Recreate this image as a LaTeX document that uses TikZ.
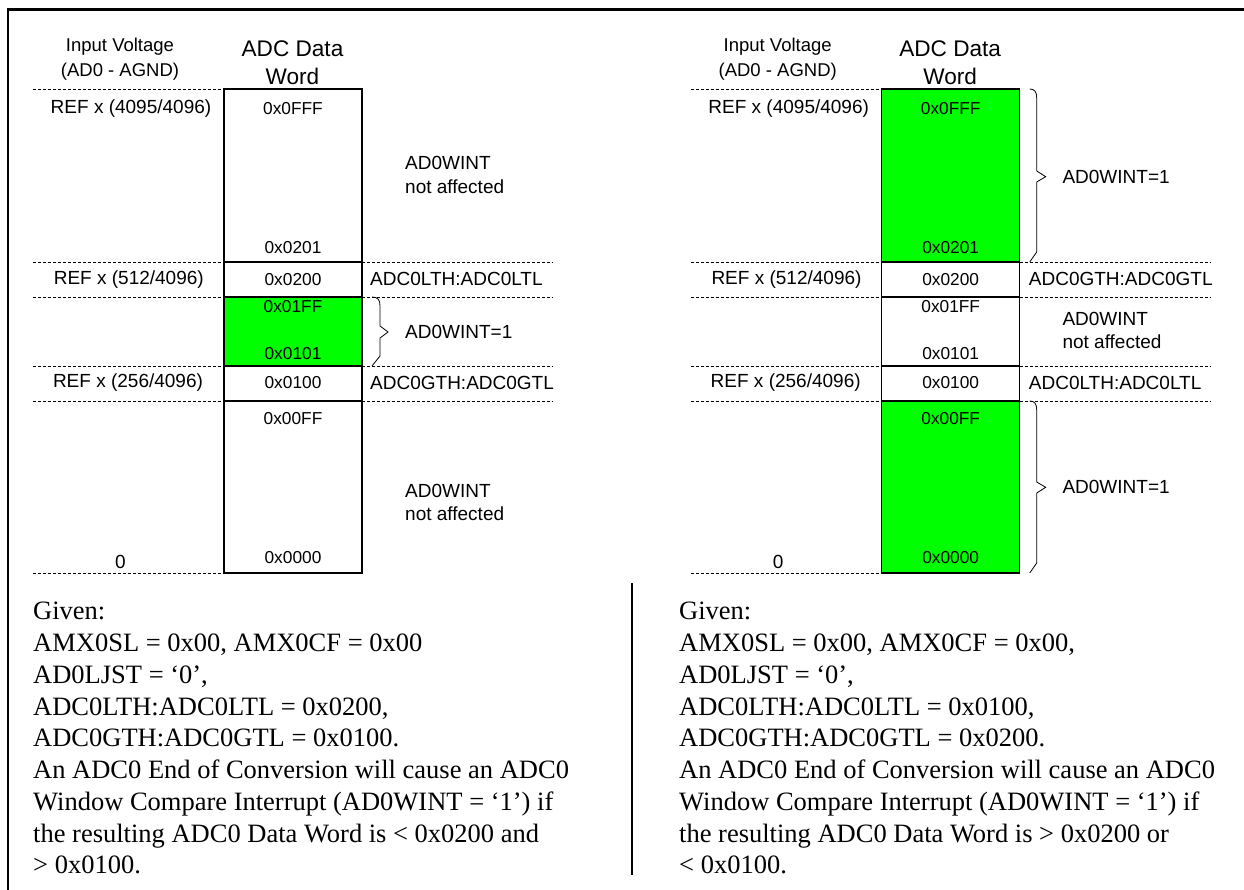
\documentclass[tikz,border=0pt]{standalone}
\usepackage{fontspec}
\setmainfont{Liberation Serif}
\setsansfont{Liberation Sans}
\begin{document}
\begin{tikzpicture}[x=1pt,y=-1pt,
    lbl/.style={font=\sffamily\fontsize{19}{23.3}\selectfont,inner sep=0pt},
    hexlbl/.style={font=\sffamily\fontsize{17.3}{20}\selectfont,inner sep=0pt},
    hdr/.style={font=\sffamily\fontsize{18.5}{25}\selectfont,align=center,inner sep=0pt},
    wordhdr/.style={font=\sffamily\fontsize{22.6}{28}\selectfont,align=center,inner sep=0pt},
    note/.style={lbl,anchor=west,align=left},
    level/.style={dash pattern=on 3pt off 2pt,line width=0.8pt},
    sep/.style={line width=1.5pt},
    given/.style={font=\fontsize{26.5}{31.75}\selectfont,align=left,anchor=north west,inner sep=0pt}]
    \useasboundingbox (0,0) rectangle (1244,890);
    % frame and divider
    \draw[line width=2.5pt] (8,890) -- (8,9.5) -- (1244,9.5);
    \draw[line width=2.7pt] (632,583) -- (632,875);

    % left case: window inside the limits
    \begin{scope}
        \fill[green] (224,297) rectangle (362,366);
        \draw[line width=1.1pt] (224,89) rectangle (362,573);
        \foreach \y in {262,297,366,401} \draw[sep] (224,\y) -- (362,\y);
        \foreach \y in {89,262,297,366,401,573} \draw[level] (33,\y) -- (224,\y);
        \foreach \y in {262,297,366,401} \draw[level] (362,\y) -- (553,\y);
        \draw[line width=0.8pt] (372,297) .. controls (378,297) and (380,300) .. (380,306)
            -- (380,326) -- (388,332) -- (380,338) -- (380,356) -- (372,366);
        \node[hdr] (Lvin) at (120,59) {Input Voltage\\(AD0 - AGND)};
        \node[wordhdr] (Lword) at (292.5,63) {ADC Data\\Word};
        \node[lbl] (Lref4095) at (131,108.3) {REF x (4095/4096)};
        \node[lbl] (Lref512) at (128.8,279.3) {REF x (512/4096)};
        \node[lbl] (Lref256) at (128,382.7) {REF x (256/4096)};
        \node[lbl] (Lzero) at (120.5,561.7) {0};
        \node[hexlbl] (Lfff) at (293,108.3) {0x0FFF};
        \node[hexlbl] (L201) at (293,247.3) {0x0201};
        \node[hexlbl] (L200) at (293,279.3) {0x0200};
        \node[hexlbl] (L1ff) at (293,306.7) {0x01FF};
        \node[hexlbl] (L101) at (293,353.3) {0x0101};
        \node[hexlbl] (L100) at (293,382.7) {0x0100};
        \node[hexlbl] (L0ff) at (293,418.3) {0x00FF};
        \node[hexlbl] (L000) at (293,557.3) {0x0000};
        \node[lbl,anchor=west] (Llth) at (370,279.3) {ADC0LTH:ADC0LTL};
        \node[lbl,anchor=west] (Lgth) at (370,382.7) {ADC0GTH:ADC0GTL};
        \node[note] (Lhigh) at (405,175) {AD0WINT\\not affected};
        \node[note] (Lwin) at (405,331.7) {AD0WINT=1};
        \node[note] (Llow) at (405,502.7) {AD0WINT\\not affected};
        \node[given] (Lgiven) at (33,602) {Given:\\
            AMX0SL = 0x00, AMX0CF = 0x00\\
            AD0LJST = ‘0’,\\
            ADC0LTH:ADC0LTL = 0x0200,\\
            ADC0GTH:ADC0GTL = 0x0100.\\
            An ADC0 End of Conversion will cause an ADC0\\
            Window Compare Interrupt (AD0WINT = ‘1’) if\\
            the resulting ADC0 Data Word is < 0x0200 and\\
            > 0x0100.};
    \end{scope}

    % right case: window outside the limits
    \begin{scope}[xshift=657.7pt]
        \fill[green] (224,89) rectangle (362,262);
        \fill[green] (224,401) rectangle (362,573);
        \draw[line width=1.1pt] (224,89) rectangle (362,573);
        \foreach \y in {262,297,366,401} \draw[sep] (224,\y) -- (362,\y);
        \foreach \y in {89,262,297,366,401,573} \draw[level] (33,\y) -- (224,\y);
        \foreach \y in {262,297,366,401} \draw[level] (362,\y) -- (553,\y);
        \draw[line width=0.8pt] (372,89) .. controls (377,89) and (379,92) .. (379,98)
            -- (379,171) -- (388,176.7) -- (379,182) -- (379,252) -- (372,262);
        \draw[line width=0.8pt] (372,401) .. controls (377,401) and (379,404) .. (379,410)
            -- (379,482) -- (388,487.3) -- (379,493) -- (379,563) -- (372,573);
        \node[hdr] (Rvin) at (120,59) {Input Voltage\\(AD0 - AGND)};
        \node[wordhdr] (Rword) at (292.5,63) {ADC Data\\Word};
        \node[lbl] (Rref4095) at (131,108.3) {REF x (4095/4096)};
        \node[lbl] (Rref512) at (128.8,279.3) {REF x (512/4096)};
        \node[lbl] (Rref256) at (128,382.7) {REF x (256/4096)};
        \node[lbl] (Rzero) at (120.5,561.7) {0};
        \node[hexlbl] (Rfff) at (293,108.3) {0x0FFF};
        \node[hexlbl] (R201) at (293,247.3) {0x0201};
        \node[hexlbl] (R200) at (293,279.3) {0x0200};
        \node[hexlbl] (R1ff) at (293,306.7) {0x01FF};
        \node[hexlbl] (R101) at (293,353.3) {0x0101};
        \node[hexlbl] (R100) at (293,382.7) {0x0100};
        \node[hexlbl] (R0ff) at (293,418.3) {0x00FF};
        \node[hexlbl] (R000) at (293,557.3) {0x0000};
        \node[lbl,anchor=west] (Rgth) at (371,279.3) {ADC0GTH:ADC0GTL};
        \node[lbl,anchor=west] (Rlth) at (371,382.7) {ADC0LTH:ADC0LTL};
        \node[note] (Rhigh) at (404.6,176.7) {AD0WINT=1};
        \node[note] (Rmid) at (404.6,330.8) {AD0WINT\\not affected};
        \node[note] (Rlow) at (404.6,487.3) {AD0WINT=1};
        \node[given] (Rgiven) at (21.3,602) {Given:\\
            AMX0SL = 0x00, AMX0CF = 0x00,\\
            AD0LJST = ‘0’,\\
            ADC0LTH:ADC0LTL = 0x0100,\\
            ADC0GTH:ADC0GTL = 0x0200.\\
            An ADC0 End of Conversion will cause an ADC0\\
            Window Compare Interrupt (AD0WINT = ‘1’) if\\
            the resulting ADC0 Data Word is > 0x0200 or\\
            < 0x0100.};
    \end{scope}
\end{tikzpicture}
\end{document}
